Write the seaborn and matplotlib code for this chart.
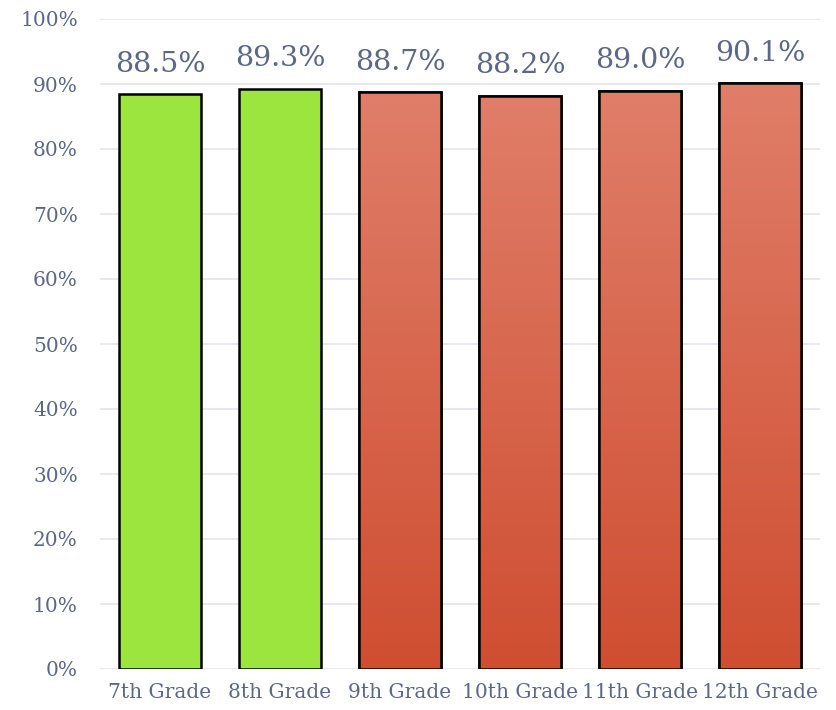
import numpy as np
import pandas as pd
import matplotlib
matplotlib.use('Agg')
import matplotlib.pyplot as plt
import seaborn as sns
from matplotlib.colors import LinearSegmentedColormap

# chart data
grades = ['7th Grade', '8th Grade', '9th Grade', '10th Grade', '11th Grade', '12th Grade']
rates = [88.5, 89.3, 88.7, 88.2, 89.0, 90.1]
level = ['middle', 'middle', 'high', 'high', 'high', 'high']

df = pd.DataFrame({'grade': grades, 'rate': rates, 'level': level})

sns.set_style('white')
plt.rcParams['font.family'] = ['DejaVu Serif']
text_col = '#5d6786'
green = '#9be53e'

fig = plt.figure(figsize=(8.36, 7.1), dpi=100)
ax = fig.add_axes([100 / 836, 41 / 710, 720 / 836, 650 / 710])

sns.barplot(data=df, x='grade', y='rate', hue='level',
            palette={'middle': green, 'high': '#d85a3c'}, saturation=1,
            width=0.68, edgecolor='black', linewidth=1.8,
            legend=False, dodge=False, ax=ax, zorder=3)

# vertical gradient on the red bars
cmap = LinearSegmentedColormap.from_list('red_grad', ['#cf4e31', '#e07e69'])
grad = np.linspace(0, 1, 256).reshape(-1, 1)
for bar in ax.patches:
    if bar.get_height() <= 0:
        continue
    if bar.get_facecolor()[1] > 0.6:  # green bar stays flat
        continue
    x0, w, h = bar.get_x(), bar.get_width(), bar.get_height()
    im = ax.imshow(grad, cmap=cmap, origin='lower', aspect='auto',
                   extent=(x0, x0 + w, 0, h), zorder=3.5)
    im.set_clip_path(bar)
    edge = plt.Rectangle((x0, 0), w, h, fill=False, edgecolor='black',
                         linewidth=1.8, zorder=4)
    ax.add_patch(edge)

for i, v in enumerate(rates):
    ax.text(i, v + 2.5, f'{v:.1f}%', ha='center', va='bottom',
            fontsize=20.5, color=text_col)

ax.set_xlim(-0.5, 5.5)
ax.set_ylim(0, 100)
ax.set_yticks(range(0, 101, 10))
ax.set_yticklabels([f'{t}%' for t in range(0, 101, 10)])
ax.yaxis.grid(True, color='#e6e6ee', linewidth=1.3, zorder=0)
ax.set_axisbelow(True)
for s in ax.spines.values():
    s.set_visible(False)
ax.tick_params(axis='both', length=0, labelsize=14.5, labelcolor=text_col)
ax.tick_params(axis='y', pad=16)
ax.tick_params(axis='x', pad=10)
ax.set_xlabel('')
ax.set_ylabel('')

fig.savefig('out.png', dpi=100)
